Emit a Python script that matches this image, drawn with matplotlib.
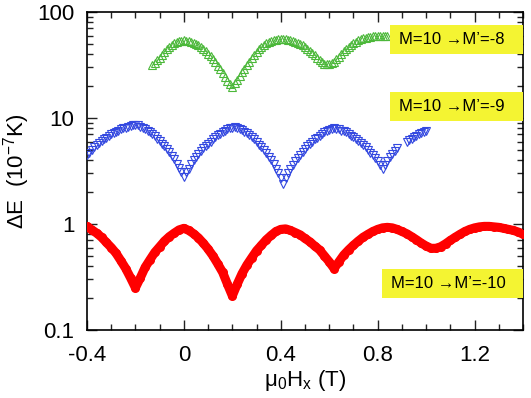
import numpy as np
import matplotlib
matplotlib.use("Agg")
import matplotlib.pyplot as plt
from matplotlib.patches import Rectangle
from matplotlib.ticker import FixedLocator, LogLocator, NullFormatter

plt.rcParams["font.family"] = ["Liberation Sans", "DejaVu Sans"]
plt.rcParams["mathtext.fontset"] = "custom"
plt.rcParams["mathtext.rm"] = "Liberation Sans"
plt.rcParams["mathtext.it"] = "Liberation Sans"

# M=10 -> M'=-10 (red, filled circles), field step 0.02 T
red_x = np.round(np.arange(-0.40, 1.401, 0.02), 2)
red_y = [0.95, 0.88, 0.82, 0.75, 0.67, 0.60, 0.53, 0.45, 0.38, 0.31,
         0.25, 0.31, 0.39, 0.46, 0.54, 0.61, 0.69, 0.76, 0.82, 0.88,
         0.91, 0.87, 0.81, 0.74, 0.66, 0.58, 0.50, 0.42, 0.35, 0.27,
         0.21, 0.27, 0.34, 0.41, 0.48, 0.56, 0.63, 0.71, 0.78, 0.85,
         0.89, 0.90, 0.87, 0.83, 0.79, 0.73, 0.68, 0.62, 0.57, 0.50,
         0.44, 0.38, 0.44, 0.51, 0.57, 0.63, 0.69, 0.75, 0.80, 0.85,
         0.89, 0.92, 0.93, 0.92, 0.89, 0.85, 0.81, 0.76, 0.71, 0.66,
         0.62, 0.59, 0.59, 0.61, 0.65, 0.70, 0.75, 0.80, 0.85, 0.89,
         0.92, 0.94, 0.95, 0.95, 0.94, 0.93, 0.91, 0.89, 0.87, 0.84,
         0.80]

# M=10 -> M'=-9 (blue, open down triangles), field step 0.01 T, gap near 0.9 T
blue_x = np.round(np.arange(-0.40, 1.001, 0.01), 2)
blue_y = [4.5, 4.7, 5.0, 5.3, 5.6, 5.8, 6.1, 6.3, 6.5, 6.8,
          7.0, 7.2, 7.4, 7.6, 7.8, 8.0, 8.1, 8.3, 8.4, 8.5,
          8.6, 8.5, 8.3, 8.1, 7.9, 7.6, 7.3, 7.0, 6.7, 6.4,
          6.1, 5.7, 5.4, 5.1, 4.8, 4.4, 4.1, 3.7, 3.4, 3.1,
          2.8, 3.1, 3.3, 3.7, 4.0, 4.3, 4.6, 4.9, 5.2, 5.5,
          5.7, 6.0, 6.3, 6.6, 6.9, 7.1, 7.3, 7.6, 7.8, 8.0,
          8.1, 8.2, 8.1, 7.9, 7.7, 7.4, 7.2, 6.9, 6.6, 6.3,
          5.9, 5.6, 5.3, 5.0, 4.7, 4.3, 4.0, 3.7, 3.3, 3.0,
          2.7, 2.4, 2.7, 3.0, 3.3, 3.6, 3.9, 4.2, 4.5, 4.8,
          5.1, 5.4, 5.7, 6.0, 6.3, 6.5, 6.8, 7.1, 7.3, 7.5,
          7.7, 7.9, 8.0, 7.9, 7.8, 7.6, 7.5, 7.3, 7.0, 6.8,
          6.6, 6.3, 6.1, 5.8, 5.6, 5.3, 5.0, 4.7, 4.5, 4.2,
          3.9, 3.6, 3.3, 3.6, 3.9, 4.3, 4.6, 4.9, 5.2, np.nan,
          np.nan, np.nan, 5.9, 6.2, 6.4, 6.6, 6.8, 7.0, 7.2, 7.4,
          7.6]

# M=10 -> M'=-8 (green, open up triangles), field step 0.01 T
green_x = np.round(np.arange(-0.13, 0.841, 0.01), 2)
green_y = [31.5, 33, 35, 37, 39.5, 42, 44.5, 46.5, 48.5, 50.5,
           52, 53, 53.7, 54, 53.8, 53.3, 52.5, 51.5, 50.3, 49,
           47, 45, 43, 40.5, 38.3, 36, 33.5, 31, 28.7, 26.5,
           24.5, 22.5, 21, 19.5, 21.2, 23, 25, 27, 29.2, 31.5,
           34, 36.5, 39.2, 42, 44.5, 47, 49, 51, 52.3, 53.5,
           54.3, 55, 55.3, 55.5, 55.6, 55.5, 55, 54.5, 53.5, 52.5,
           51.3, 50, 48.5, 47, 45, 43, 41, 39, 37, 35,
           33.5, 32.5, 32, 32, 33, 34, 36, 38, 40.2, 42.5,
           44.8, 47, 49, 51, 52.5, 54, 55.3, 56.5, 57.3, 58,
           58.5, 59, 59.3, 59.5, 59.5, 59.5, 59.5, 59.5]

labels = ["M=10 \u2192M\u2019=-8", "M=10 \u2192M\u2019=-9", "M=10 \u2192M\u2019=-10"]
x_ticks = [-0.4, 0, 0.4, 0.8, 1.2]
x_tick_labels = ["-0.4", "0", "0.4", "0.8", "1.2"]
y_ticks = [0.1, 1, 10, 100]
y_tick_labels = ["0.1", "1", "10", "100"]

fig = plt.figure(figsize=(5.31, 3.98), dpi=100)
ax = fig.add_axes([0.1638, 0.1709, 0.8212, 0.7989])

ax.plot(red_x, red_y, "-o", color="#ff0000", lw=6.5, ms=6.5, mew=0,
        solid_capstyle="round", solid_joinstyle="round", zorder=3)
ax.plot(blue_x, blue_y, "v", color="#3348e0", ms=5.5, mfc="none", mew=0.8, zorder=3)
ax.plot(green_x, green_y, "^", color="#4cb83a", ms=5.5, mfc="none", mew=0.8, zorder=3)

ax.set_yscale("log")
ax.set_xlim(-0.4, 1.4)
ax.set_ylim(0.1, 100)

ax.set_xticks(x_ticks)
ax.set_xticklabels(x_tick_labels)
ax.xaxis.set_minor_locator(FixedLocator(np.arange(-0.4, 1.41, 0.1)))
ax.set_yticks(y_ticks)
ax.set_yticklabels(y_tick_labels)
ax.yaxis.set_minor_locator(LogLocator(base=10, subs=np.arange(2, 10)))
ax.yaxis.set_minor_formatter(NullFormatter())

ax.tick_params(which="both", direction="in", top=True, right=True, labelsize=16, width=1.0, color="#222222")
ax.tick_params(which="major", length=7)
ax.tick_params(which="minor", length=4)
ax.tick_params(axis="x", which="major", pad=11)
ax.tick_params(axis="y", which="major", pad=9)
for s in ax.spines.values():
    s.set_linewidth(1.2)

ax.set_xlabel("\u03bc$_0$H$_x$ (T)", fontsize=16, labelpad=1)
ax.set_ylabel("\u0394E  (10$^{-7}$K)", fontsize=16, labelpad=4)

boxes = [(0.695, 0.868, 0.305, 0.091), (0.695, 0.657, 0.305, 0.091), (0.677, 0.101, 0.323, 0.091)]
for (bx, by, bw, bh), lab in zip(boxes, labels):
    ax.add_patch(Rectangle((bx, by), bw, bh, transform=ax.transAxes,
                           facecolor="#f4f432", edgecolor="none", zorder=4))
    ax.text(bx + 0.02, by + bh / 2, lab, transform=ax.transAxes, fontsize=12,
            va="center", ha="left", zorder=5)

fig.savefig("out.png", dpi=100)
